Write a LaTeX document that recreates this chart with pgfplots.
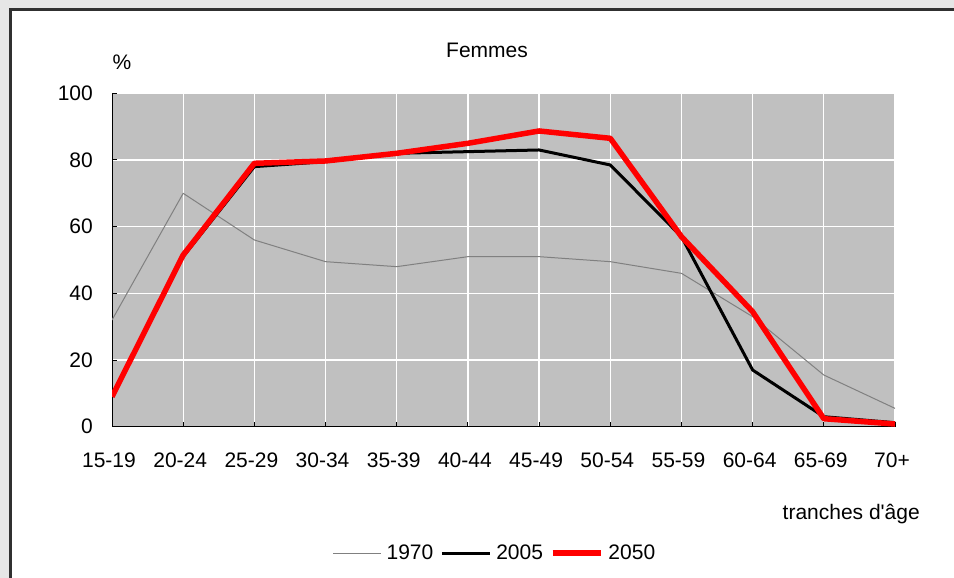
\documentclass[border=0pt]{standalone}
\usepackage{fontspec}
\setmainfont{Liberation Sans}
\usepackage{pgfplots}
\pgfplotsset{compat=1.18}
\definecolor{plotbg}{HTML}{C0C0C0}
\definecolor{outerbg}{HTML}{E6E6E6}
\definecolor{framec}{HTML}{303030}
\definecolor{g1970}{HTML}{808080}
\pgfplotstableread{
x y1970 y2005 y2050
0 32 9 9
1 70 51 51.5
2 56 78 79
3 49.5 79.5 79.7
4 48 82 82
5 51 82.5 85
6 51 83 88.7
7 49.5 78.5 86.5
8 46 57 57
9 33 17 34.5
10 15.5 3 2.4
11 5.5 1.2 0.8
}\datatable
\begin{document}
\begin{tikzpicture}
\useasboundingbox (0,0) rectangle (954bp,578bp);
\clip (0,0) rectangle (954bp,578bp);
\fill[outerbg] (0,0) rectangle (954bp,578bp);
\fill[white] (10.5bp,-5bp) rectangle (970bp,568.5bp);
\draw[framec, line width=2.5bp] (10.5bp,-5bp) -- (10.5bp,568.5bp) -- (970bp,568.5bp);
\begin{axis}[
  at={(112bp,151.3bp)}, anchor=south west,
  scale only axis, width=783bp, height=333.4bp,
  xmin=0, xmax=11, ymin=0, ymax=100,
  axis background/.style={fill=plotbg},
  axis x line*=bottom, axis y line*=left,
  axis line style={black, line width=1bp},
  every axis plot/.append style={line join=round},
  xtick={0,...,11},
  xticklabels={15-19,20-24,25-29,30-34,35-39,40-44,45-49,50-54,55-59,60-64,65-69,70+},
  ytick={0,20,40,60,80,100},
  tick align=inside,
  major tick length=5bp,
  tick style={black, line width=1bp},
  grid=major,
  major grid style={white, line width=1.3bp},
  /pgf/number format/assume math mode=true,
  ticklabel style={font=\fontsize{21bp}{25bp}\selectfont},
  yticklabel style={anchor=east, inner sep=0pt, xshift=-19bp},
  xticklabel style={anchor=center, inner sep=0pt, yshift=-34bp, xshift=-3bp},
  legend style={at={(0.489,-0.379)}, anchor=center, draw=none, fill=none,
    font=\fontsize{21bp}{25bp}\selectfont, inner sep=0pt,
    /tikz/every odd column/.append style={column sep=3bp},
    /tikz/every even column/.append style={column sep=5bp}},
  legend columns=3,
  legend cell align=left,
  legend image code/.code={\draw[#1] (0bp,0bp) -- (48bp,0bp);},
]
\addplot[g1970, line width=1bp] table[x=x, y=y1970] {\datatable};
\addlegendentry{1970}
\addplot[black, line width=3bp] table[x=x, y=y2005] {\datatable};
\addlegendentry{2005}
\addplot[red, line width=5.5bp] table[x=x, y=y2050] {\datatable};
\addlegendentry{2050}
\end{axis}
\node[font=\fontsize{21bp}{25bp}\selectfont] at (122bp,516bp) {\%};
\node[font=\fontsize{21bp}{25bp}\selectfont] at (487bp,528bp) {Femmes};
\node[font=\fontsize{21bp}{25bp}\selectfont, anchor=east, inner sep=0pt] at (920bp,64bp) {tranches d\textquotesingle âge};
\end{tikzpicture}
\end{document}
